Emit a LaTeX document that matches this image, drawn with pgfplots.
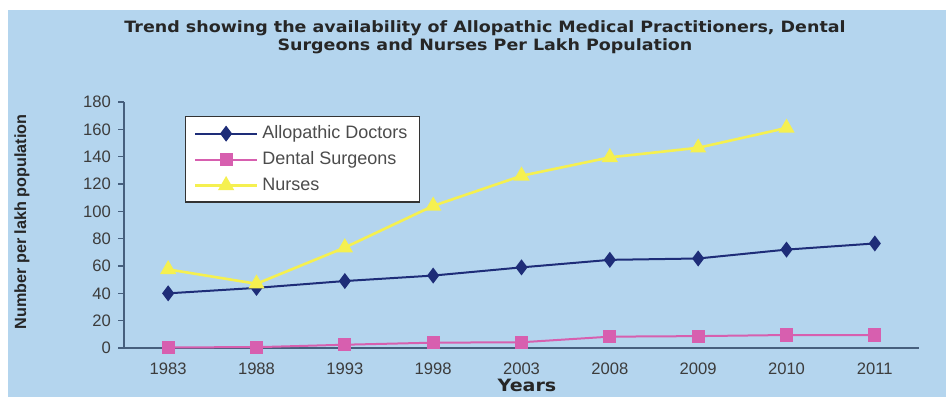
\documentclass[border=0pt]{standalone}
\usepackage{fontspec}
\setmainfont{Liberation Sans}
\newfontfamily\widefont{DejaVu Sans}[FakeStretch=1.12]
\usepackage{pgfplots}
\pgfplotsset{compat=1.18}

\definecolor{bgblue}{RGB}{180,213,238}
\definecolor{axisline}{RGB}{70,95,125}
\definecolor{ticktext}{RGB}{60,60,60}
\definecolor{docnavy}{RGB}{30,45,120}
\definecolor{dentpink}{RGB}{215,95,175}
\definecolor{nurseyel}{RGB}{245,240,80}

\begin{document}
\begin{tikzpicture}
% page: 946 x 397 px, 1 px = 0.5 pt
\fill[white, use as bounding box] (0,0) rectangle (473pt,198.5pt);
\fill[bgblue] (4pt,0) rectangle (473pt,193.5pt);

\node[font=\widefont\bfseries\fontsize{7.8}{8.8}\selectfont, text=black!85, align=center]
  at (242.5pt,180pt) {Trend showing the availability of Allopathic Medical Practitioners, Dental\\Surgeons and Nurses Per Lakh Population};

\node[font=\bfseries\fontsize{8.1}{10}\selectfont, rotate=90, text=black!85]
  at (11pt,87.5pt) {Number per lakh population};

\node[font=\widefont\bfseries\fontsize{8.5}{10}\selectfont, text=black!85] at (263.5pt,5.75pt) {Years};

\begin{axis}[
  at={(62pt,24.5pt)}, anchor=south west,
  scale only axis, width=397.5pt, height=123pt,
  xmin=-0.5, xmax=8.5, ymin=0, ymax=180,
  axis x line=bottom, axis y line=left,
  axis line style={axisline, line width=0.8pt, -},
  xtick={0,...,8},
  xticklabels={1983,1988,1993,1998,2003,2008,2009,2010,2011},
  major x tick style={draw=none},
  extra x ticks={-0.5,0.5,...,8.5},
  extra x tick labels={},
  extra x tick style={tick style={axisline, line width=0.6pt}, major tick length=3pt, tick align=outside},
  ytick={0,20,...,180},
  tick align=outside, major tick length=3pt,
  y tick style={axisline, line width=0.6pt},
  tick label style={font=\fontsize{8.3}{10}\selectfont, text=ticktext},
  /pgf/number format/assume math mode=true,
  /pgf/number format/set thousands separator={},
  xticklabel style={yshift=-1pt},
  legend style={at={(0.077,0.943)}, anchor=north west, draw=black!80, fill=white,
    font=\fontsize{9}{10}\selectfont, text=black!70, row sep=1pt,
    inner xsep=4pt, inner ysep=2.5pt, line width=0.6pt},
  legend cell align=left,
  legend image code/.code={
    \draw[mark repeat=2, mark phase=2] plot coordinates {(0pt,0pt) (15.5pt,0pt) (31pt,0pt)};},
]
\addplot[docnavy, line width=1pt, mark=diamond*, mark size=3.2pt, mark options={solid, fill=docnavy}]
  coordinates {(0,40) (1,44) (2,49) (3,53) (4,59) (5,64.5) (6,65.5) (7,72) (8,76.5)};
\addlegendentry{Allopathic Doctors}
\addplot[dentpink, line width=1pt, mark=square*, mark size=2.8pt, mark options={solid, fill=dentpink}]
  coordinates {(0,0.5) (1,0.6) (2,2.4) (3,3.9) (4,4.2) (5,8.3) (6,8.7) (7,9.5) (8,9.5)};
\addlegendentry{Dental Surgeons}
\addplot[nurseyel, line width=1.3pt, mark=triangle*, mark size=3.4pt, mark options={solid, fill=nurseyel}]
  coordinates {(0,57.5) (1,47) (2,73.5) (3,104) (4,126) (5,139.5) (6,146.5) (7,161)};
\addlegendentry{Nurses}
\end{axis}
\end{tikzpicture}
\end{document}
